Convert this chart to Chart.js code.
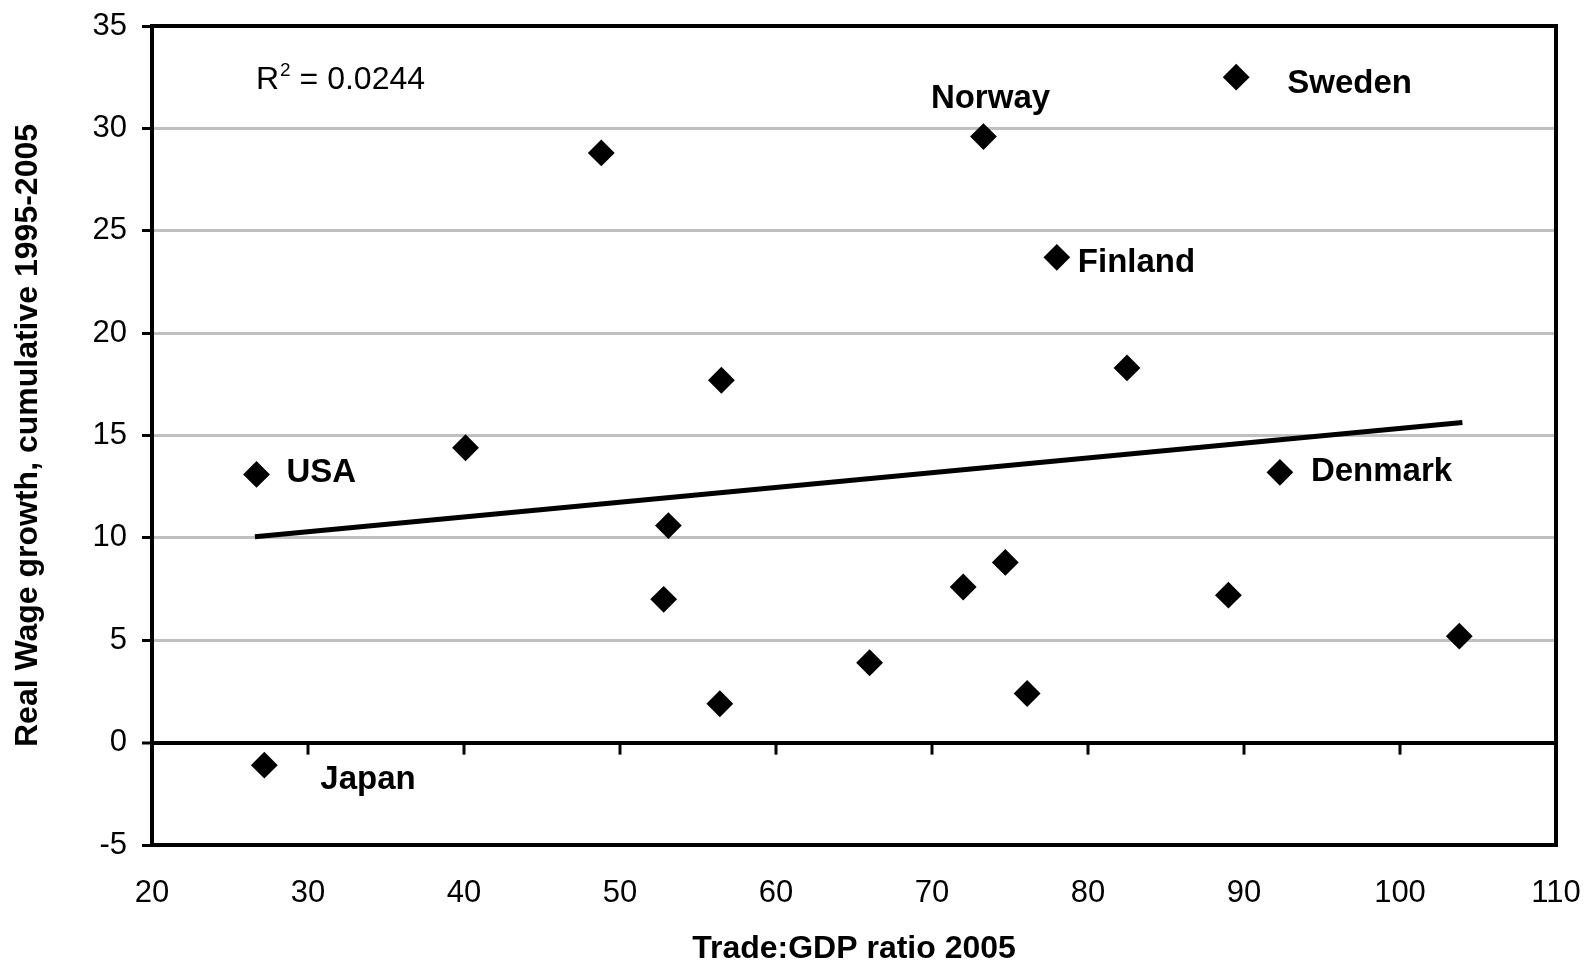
<!DOCTYPE html>
<html>
<head>
<meta charset="utf-8">
<title>Real wage growth vs trade openness</title>
<script src="https://cdn.jsdelivr.net/npm/chart.js@4.4.1/dist/chart.umd.min.js"></script>
<style>
  html, body { margin: 0; padding: 0; background: #fff; }
  #wrap { width: 1589px; height: 960px; position: relative; }
</style>
</head>
<body>
<div id="wrap"><canvas id="chart"></canvas></div>
<script>
// values
const tradeGdp   = [26.7, 27.2, 40.1, 48.8, 56.5, 53.1, 52.8, 56.4, 66.0, 72.0, 73.3, 74.7, 76.1, 78.0, 82.5, 89.0, 89.5, 92.3, 103.8];
const wageGrowth = [13.1, -1.1, 14.4, 28.8, 17.7, 10.6, 7.0, 1.9, 3.9, 7.6, 29.6, 8.8, 2.4, 23.7, 18.3, 7.2, 32.5, 13.2, 5.2];
const countries  = ['USA', 'Japan', '', '', '', '', '', '', '', '', 'Norway', '', '', 'Finland', '', '', 'Sweden', 'Denmark', ''];
const trendX = [26.6, 104.0];
const trendY = [10.05, 15.63];
const rSquared = '0.0244';

// where each country name sits relative to its marker (px)
const labelOffsets = {
    USA: [30, -1, 'left'], Japan: [56, 15, 'left'], Norway: [7, -38, 'center'],
    Finland: [21, 6, 'left'], Sweden: [51, 7, 'left'], Denmark: [31, 0, 'left']
};

const FONT = "'Liberation Sans', Arial, sans-serif";
Chart.defaults.font.family = FONT;
Chart.defaults.color = '#000';

const framePlugin = {
    id: 'frame',
    beforeDatasetsDraw(chart) {
        const { ctx, chartArea: a, scales: { x, y } } = chart;
        ctx.save();
        ctx.strokeStyle = '#000';
        // x tick marks hang below the zero line
        const y0 = y.getPixelForValue(0);
        ctx.lineWidth = 3;
        x.ticks.forEach(t => {
            const px = x.getPixelForValue(t.value);
            ctx.beginPath(); ctx.moveTo(px, y0); ctx.lineTo(px, y0 + 12); ctx.stroke();
        });
        ctx.lineWidth = 4;
        ctx.strokeRect(a.left, a.top, a.right - a.left, a.bottom - a.top);
        ctx.restore();
    },
    afterDatasetsDraw(chart) {
        const { ctx, chartArea: a, scales: { x, y } } = chart;
        ctx.save();
        ctx.fillStyle = '#000';
        ctx.textBaseline = 'middle';
        ctx.font = 'bold 33px ' + FONT;
        countries.forEach((name, i) => {
            if (!name) return;
            const [dx, dy, align] = labelOffsets[name];
            ctx.textAlign = align;
            ctx.fillText(name, x.getPixelForValue(tradeGdp[i]) + dx, y.getPixelForValue(wageGrowth[i]) + dy);
        });

        // R² annotation
        ctx.textAlign = 'left';
        ctx.textBaseline = 'alphabetic';
        let tx = a.left + 104, base = a.top + 63;
        ctx.font = '32px ' + FONT;
        ctx.fillText('R', tx, base);
        tx += ctx.measureText('R').width + 1;
        ctx.font = '19px ' + FONT;
        ctx.fillText('2', tx, base - 13);
        tx += ctx.measureText('2').width;
        ctx.font = '32px ' + FONT;
        ctx.fillText(' = ' + rSquared, tx, base);
        ctx.restore();
    }
};

new Chart(document.getElementById('chart'), {
    type: 'scatter',
    data: {
        datasets: [
            {
                label: 'Countries',
                data: tradeGdp.map((v, i) => ({ x: v, y: wageGrowth[i] })),
                pointStyle: 'rectRot',
                pointRadius: 12,
                pointBorderWidth: 2,
                backgroundColor: '#000',
                borderColor: '#000'
            },
            {
                label: 'Trend',
                data: trendX.map((v, i) => ({ x: v, y: trendY[i] })),
                showLine: true,
                borderColor: '#000',
                borderWidth: 5,
                pointRadius: 0
            }
        ]
    },
    options: {
        responsive: true,
        maintainAspectRatio: false,
        devicePixelRatio: 1,
        animation: false,
        layout: { padding: { top: 26, right: 33, left: 0, bottom: 0 } },
        plugins: { legend: { display: false }, tooltip: { enabled: false } },
        scales: {
            x: {
                type: 'linear', min: 20, max: 110,
                ticks: { stepSize: 10, color: '#000', font: { size: 31 }, padding: 30 },
                grid: { display: false, drawTicks: false },
                border: { display: false },
                title: { display: true, text: 'Trade:GDP ratio 2005', color: '#000',
                         font: { size: 32, weight: 'bold' }, padding: { top: 0, bottom: -8 } },
                afterFit: s => { s.height = 115; s.paddingLeft = 0; s.paddingRight = 0; }
            },
            y: {
                min: -5, max: 35,
                ticks: { stepSize: 5, color: '#000', font: { size: 31 }, padding: 15 },
                grid: {
                    color: c => c.tick && c.tick.value === 0 ? '#000' : '#c0c0c0',
                    lineWidth: c => c.tick && c.tick.value === 0 ? 4 : 3,
                    tickColor: '#000', tickLength: 10, tickWidth: 3
                },
                border: { display: false },
                title: { display: true, text: 'Real Wage growth, cumulative 1995-2005', color: '#000',
                         font: { size: 32, weight: 'bold' }, padding: { top: 9 } },
                afterFit: s => { s.width = 152; s.paddingTop = 0; s.paddingBottom = 0; }
            }
        }
    },
    plugins: [framePlugin]
});
</script>
</body>
</html>
